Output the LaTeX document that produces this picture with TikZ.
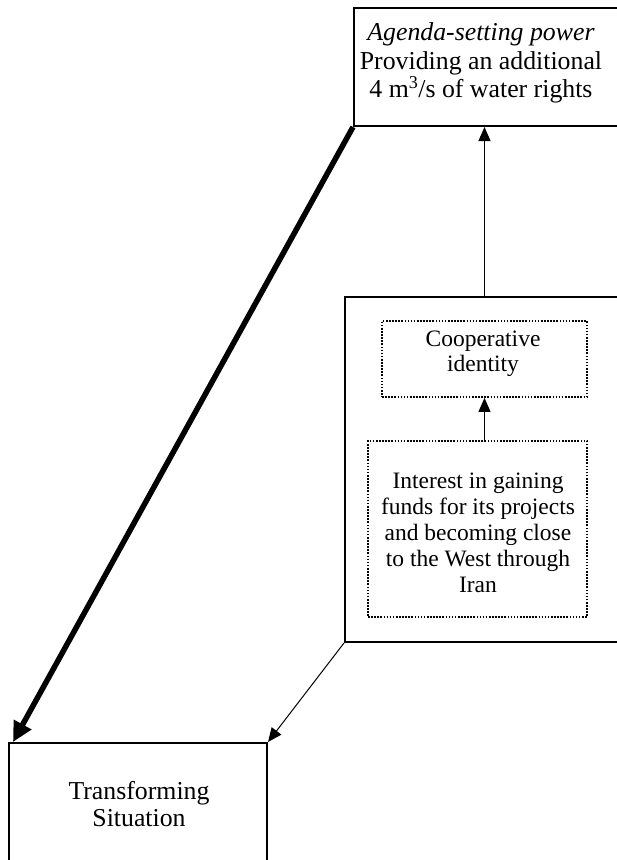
\documentclass[tikz,border=0pt]{standalone}
\usepackage{fontspec}
\setmainfont{Liberation Serif}
\usetikzlibrary{arrows.meta}
\begin{document}
\begin{tikzpicture}[x=1pt,y=-1pt,
  solidbox/.style={draw, line width=2pt, inner sep=0pt},
  dotbox/.style={draw, line width=1.8pt, dash pattern=on 1.6pt off 1.5pt, inner sep=0pt},
  bigtext/.style={align=center, inner sep=0pt, font=\fontsize{25.8pt}{28.5pt}\selectfont},
  smalltext/.style={align=center, inner sep=0pt, font=\fontsize{23.5pt}{26pt}\selectfont},
  thinarrow/.style={line width=1pt, -{Triangle[length=14pt,width=12pt]}},
  thickarrow/.style={line width=5.5pt, -{Triangle[length=20pt,width=19pt]}}
]
\useasboundingbox (0,0) rectangle (617,860);
\clip (0,0) rectangle (617,860);
\fill[white] (0,0) rectangle (617,860);

\node[solidbox, minimum width=276pt, minimum height=118pt] (top) at (492,67) {};
\node[solidbox, minimum width=285pt, minimum height=345pt] (big) at (487.5,469.5) {};
\node[dotbox, minimum width=205pt, minimum height=76pt] (dot1) at (484.5,359) {};
\node[dotbox, minimum width=219pt, minimum height=176pt] (dot2) at (477.5,529) {};
\node[solidbox, minimum width=258pt, minimum height=132pt] (bottom) at (138,809) {};

\node[bigtext] (toptext) at (481,63) {\textit{Agenda-setting power}\\Providing an additional\\ 4 m\textsuperscript{3}/s of water rights};
\node[smalltext, font=\fontsize{23.5pt}{25pt}\selectfont] (cooptext) at (483,354) {Cooperative\\identity};
\node[smalltext] (inttext) at (478,533) {Interest in gaining\\funds for its projects\\and becoming close\\to the West through\\Iran};
\node[bigtext, font=\fontsize{25.8pt}{27pt}\selectfont] (bottext) at (139,804) {Transforming\\Situation};

\draw[thickarrow] (top.south west) -- ([xshift=5pt]bottom.north west);
\draw[thinarrow] (big.south west) -- (bottom.north east);
\draw[thinarrow] (dot1.north |- big.north) -- (dot1.north |- top.south);
\draw[thinarrow] (dot1.south |- dot2.north) -- (dot1.south);
\end{tikzpicture}
\end{document}
